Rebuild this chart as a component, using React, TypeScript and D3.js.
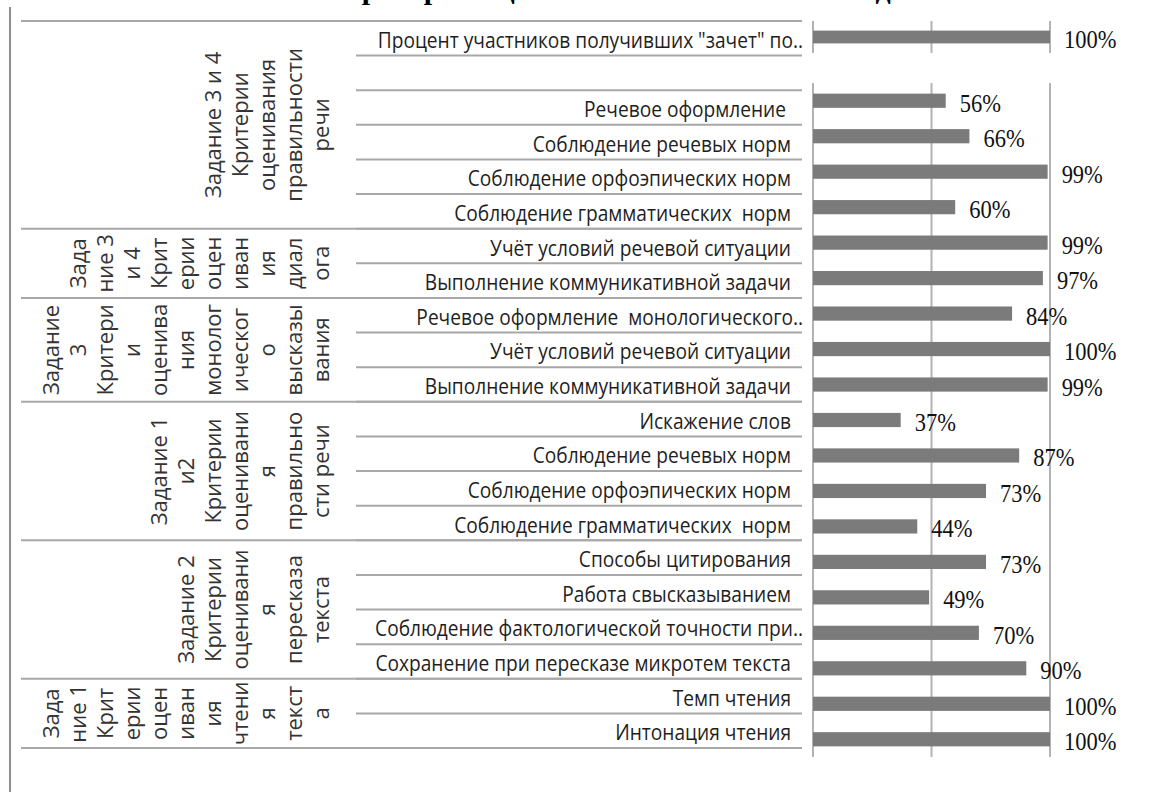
import React, { useEffect, useRef } from 'react';
import * as d3 from 'd3';

// top block: single summary bar
const topLabels = ['Процент участников получивших "зачет" по..'];
const topValues = [1.0];

// main block, top to bottom
const categories = [
  'Речевое оформление ',
  'Соблюдение речевых норм',
  'Соблюдение орфоэпических норм',
  'Соблюдение грамматических  норм',
  'Учёт условий речевой ситуации',
  'Выполнение коммуникативной задачи',
  'Речевое оформление  монологического..',
  'Учёт условий речевой ситуации',
  'Выполнение коммуникативной задачи',
  'Искажение слов',
  'Соблюдение речевых норм',
  'Соблюдение орфоэпических норм',
  'Соблюдение грамматических  норм',
  'Способы цитирования',
  'Работа свысказыванием',
  'Соблюдение фактологической точности при..',
  'Сохранение при пересказе микротем текста',
  'Темп чтения',
  'Интонация чтения',
];
const values = [
  0.56, 0.66, 0.99, 0.6, 0.99, 0.97, 0.84, 1.0, 0.99, 0.37, 0.87, 0.73, 0.44,
  0.73, 0.49, 0.7, 0.9, 1.0, 1.0,
];

// outer category groups (rotated labels), rows counted in the label table
const groupLines = [
  ['Задание 3 и 4', 'Критерии', 'оценивания', 'правильности', 'речи'],
  ['Зада', 'ние 3', 'и 4', 'Крит', 'ерии', 'оцен', 'иван', 'ия', 'диал', 'ога'],
  ['Задание', '3', 'Критери', 'и', 'оценива', 'ния', 'монолог', 'ическог', 'о', 'высказы', 'вания'],
  ['Задание 1', 'и2', 'Критерии', 'оценивани', 'я', 'правильно', 'сти речи'],
  ['Задание 2', 'Критерии', 'оценивани', 'я', 'пересказа', 'текста'],
  ['Зада', 'ние 1', 'Крит', 'ерии', 'оцен', 'иван', 'ия', 'чтени', 'я', 'текст', 'а'],
];
const groupSizes = [6, 2, 3, 4, 4, 2];

const titleText = 'Критерии оценивания итогового собеседования';

export default function App() {
  const svgRef = useRef<SVGSVGElement>(null);

  useEffect(() => {
    if (!svgRef.current) return;
    const svg = d3.select(svgRef.current);
    svg.selectAll('*').remove();

    const W = 1160;
    const H = 792;
    svg.attr('width', W).attr('height', H).style('display', 'block');

    const gridColor = '#b3b3b3';
    const lineColor = '#a8a8a8';
    const barColor = '#7b7b7b';

    // title, cropped at the top edge like the source image (only descenders show)
    svg.append('text')
      .attr('x', 340)
      .attr('y', -1)
      .attr('font-family', '"Liberation Serif", "Times New Roman", serif')
      .attr('font-weight', 'bold')
      .attr('font-size', 30)
      .attr('fill', '#000')
      .text(titleText);

    // left outer border
    svg.append('line')
      .attr('x1', 10).attr('x2', 10)
      .attr('y1', 7).attr('y2', H)
      .attr('stroke', '#8f8f8f').attr('stroke-width', 2);

    // label table rows: summary row, blank row, then all categories
    const rowLabels = [...topLabels, '', ...categories];
    const rows = d3.scaleBand<number>()
      .domain(d3.range(rowLabels.length))
      .range([21, 748]);

    const tableLeft = 21;
    const rowLeft = 356;
    const tableRight = 802;
    const labelRight = 791;

    // row separators
    const boundaries = d3.range(rowLabels.length + 1).map(i =>
      i < rowLabels.length ? (rows(i) as number) : 748);
    svg.append('g').selectAll('line')
      .data(boundaries)
      .join('line')
      .attr('x1', rowLeft).attr('x2', tableRight)
      .attr('y1', d => d).attr('y2', d => d)
      .attr('stroke', lineColor).attr('stroke-width', 2);

    // group separators + rotated group labels
    let start = 0;
    const groupEdges = [0];
    groupSizes.forEach(s => { start += s; groupEdges.push(start); });
    svg.append('g').selectAll('line')
      .data(groupEdges)
      .join('line')
      .attr('x1', tableLeft).attr('x2', tableRight)
      .attr('y1', d => boundaries[d]).attr('y2', d => boundaries[d])
      .attr('stroke', lineColor).attr('stroke-width', 2);

    const lineStep = 27;
    const lastLineX = 320;
    groupLines.forEach((lines, gi) => {
      const y0 = boundaries[groupEdges[gi]];
      const y1 = boundaries[groupEdges[gi + 1]];
      const cy = (y0 + y1) / 2;
      const n = lines.length;
      svg.append('g').selectAll('text')
        .data(lines)
        .join('text')
        .attr('transform', (_, j) =>
          `translate(${lastLineX - (n - 1 - j) * lineStep},${cy}) rotate(-90)`)
        .attr('text-anchor', 'middle')
        .attr('dominant-baseline', 'central')
        .attr('font-family', '"Open Sans", "Noto Sans", sans-serif')
        .attr('font-size', 22)
        .attr('fill', '#333')
        .text(d => d);
    });

    // category labels
    svg.append('g').selectAll('text')
      .data(rowLabels.map((t, i) => ({ t, i })).filter(d => d.t !== ''))
      .join('text')
      .attr('transform', d => {
        const x = d.t.endsWith('..') ? tableRight + 1 : labelRight;
        const y = (rows(d.i) as number) + rows.bandwidth() / 2 + 1;
        return `translate(${x},${y}) scale(0.87,1)`;
      })
      .attr('text-anchor', 'end')
      .attr('dominant-baseline', 'central')
      .attr('font-family', '"Open Sans", "Noto Sans", sans-serif')
      .attr('font-size', 22)
      .attr('fill', '#1e1e1e')
      .style('white-space', 'pre')
      .text(d => d.t);

    // bar charts
    const x = d3.scaleLinear().domain([0, 1]).range([813, 1050]);

    const drawBars = (labels: string[], vals: number[], y0: number, y1: number) => {
      const y = d3.scaleBand<number>()
        .domain(d3.range(labels.length))
        .range([y0, y1])
        .paddingInner(0.6)
        .paddingOuter(0.3);

      const g = svg.append('g');
      g.selectAll('line.grid')
        .data(x.ticks(2))
        .join('line')
        .attr('class', 'grid')
        .attr('x1', d => x(d)).attr('x2', d => x(d))
        .attr('y1', y0).attr('y2', y1)
        .attr('stroke', gridColor).attr('stroke-width', 2);

      g.selectAll('rect')
        .data(vals)
        .join('rect')
        .attr('x', x(0))
        .attr('y', (_, i) => y(i) as number)
        .attr('width', d => x(d) - x(0))
        .attr('height', y.bandwidth())
        .attr('fill', barColor);

      g.selectAll('text')
        .data(vals)
        .join('text')
        .attr('transform', (d, i) =>
          `translate(${x(d) + 14},${(y(i) as number) + y.bandwidth() / 2 + 11}) scale(0.9,1)`)
        .attr('font-family', '"Liberation Serif", "Times New Roman", serif')
        .attr('font-size', 25)
        .attr('fill', '#111')
        .text(d => `${Math.round(d * 100)}%`);
    };

    drawBars(topLabels, topValues, 21, 53);
    drawBars(categories, values, 83, 757);
  }, []);

  return (
    <div style={{ position: 'absolute', left: 0, top: 0, width: 1160, height: 792, background: '#fff' }}>
      <svg ref={svgRef}></svg>
    </div>
  );
}
